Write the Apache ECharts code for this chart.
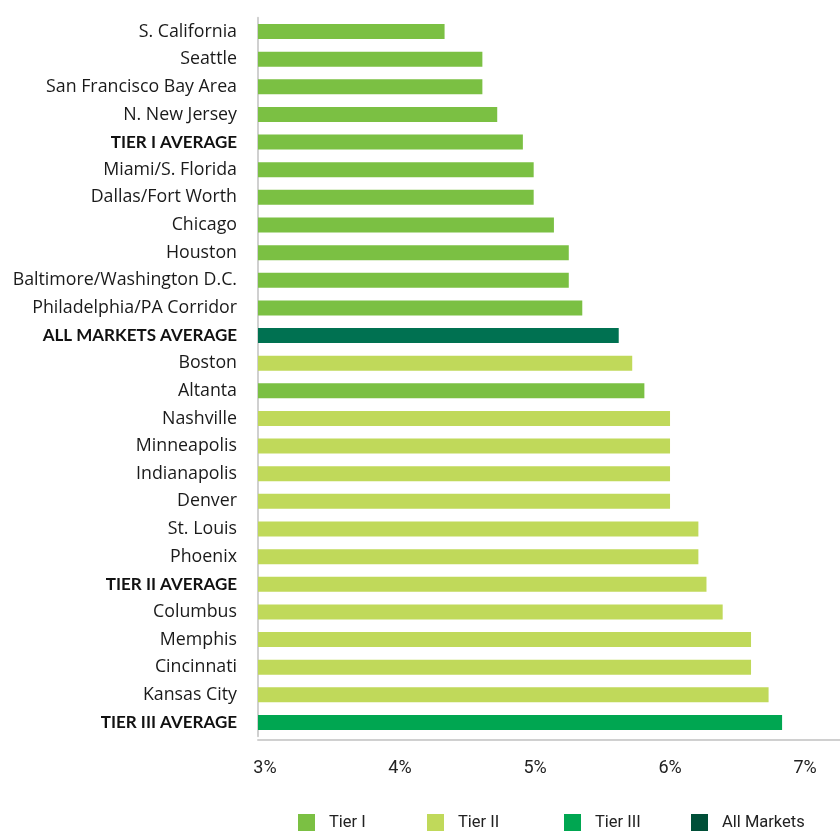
<!DOCTYPE html>
<html>
<head>
<meta charset="utf-8">
<script src="https://cdn.jsdelivr.net/npm/echarts@6/dist/echarts.min.js"></script>
<style>
html,body{margin:0;padding:0;background:#fff;}
#chart{width:840px;height:836px;}
</style>
</head>
<body>
<div id="chart"></div>
<script>
var categories = ["S. California","Seattle","San Francisco Bay Area","N. New Jersey","TIER I AVERAGE","Miami/S. Florida","Dallas/Fort Worth","Chicago","Houston","Baltimore/Washington D.C.","Philadelphia/PA Corridor","ALL MARKETS AVERAGE","Boston","Altanta","Nashville","Minneapolis","Indianapolis","Denver","St. Louis","Phoenix","TIER II AVERAGE","Columbus","Memphis","Cincinnati","Kansas City","TIER III AVERAGE"];
var values = [4.33,4.61,4.61,4.72,4.91,4.99,4.99,5.14,5.25,5.25,5.35,5.62,5.72,5.81,6.0,6.0,6.0,6.0,6.21,6.21,6.27,6.39,6.6,6.6,6.73,6.83];
var groups = ["Tier I","Tier I","Tier I","Tier I","Tier I","Tier I","Tier I","Tier I","Tier I","Tier I","Tier I","All Markets","Tier II","Tier I","Tier II","Tier II","Tier II","Tier II","Tier II","Tier II","Tier II","Tier II","Tier II","Tier II","Tier II","Tier III"];
var boldLabels = ["TIER I AVERAGE","ALL MARKETS AVERAGE","TIER II AVERAGE","TIER III AVERAGE"];
var seriesNames = ["Tier I","Tier II","Tier III","All Markets"];
var seriesColors = ["#7bc043","#c0d95a","#00a651","#007151"];
var legendColors = ["#7bc043","#c0d95a","#00a651","#004f38"];
var tickValues = [3,4,5,6,7];

var condensed = "'Roboto', sans-serif";
var chart = echarts.init(document.getElementById('chart'));
var series = seriesNames.map(function(name, si){
  return {
    name: name,
    type: 'bar',
    barWidth: 15,
    barGap: '-100%',
    itemStyle: {color: seriesColors[si]},
    data: values.map(function(v, i){ return groups[i] === name ? v : '-'; })
  };
});
var legendLefts = [298, 427, 564, 691];
var legends = seriesNames.map(function(name, si){
  return {
    left: legendLefts[si], top: 814, padding: 0,
    itemWidth: 17, itemHeight: 17, icon: 'rect',
    selectedMode: false,
    data: [{name: name, itemStyle: {color: legendColors[si]}}],
    textStyle: {fontFamily: condensed, fontSize: 16.5, color: '#222', padding: [2,0,0,9]}
  };
});
chart.setOption({
  animation: false,
  backgroundColor: '#fff',
  grid: {left: 258, right: 0, top: 17.7, height: 718.6, containLabel: false},
  legend: legends,
  xAxis: {
    type: 'value', min: 2.948, max: 7.259, offset: 3.5,
    axisLine: {show: true, lineStyle: {color: '#d0d0d0', width: 2}},
    axisTick: {show: false},
    splitLine: {show: false},
    axisLabel: {
      customValues: tickValues, margin: 20,
      formatter: function(v){ return Math.round(v) + '%'; },
      fontFamily: condensed, fontSize: 18, color: '#222'
    }
  },
  yAxis: {
    type: 'category', inverse: true, data: categories,
    axisLine: {show: true, lineStyle: {color: '#d0d0d0', width: 2}},
    axisTick: {show: false},
    axisLabel: {
      margin: 21,
      formatter: function(v){ return boldLabels.indexOf(v) >= 0 ? '{b|' + v + '}' : '{n|' + v + '}'; },
      rich: {
        n: {fontFamily: 'Open Sans', fontSize: 17.8, color: '#1a1a1a'},
        b: {fontFamily: 'Lato', fontSize: 17, fontWeight: 'bold', color: '#111'}
      }
    }
  },
  series: series
});
</script>
</body>
</html>
